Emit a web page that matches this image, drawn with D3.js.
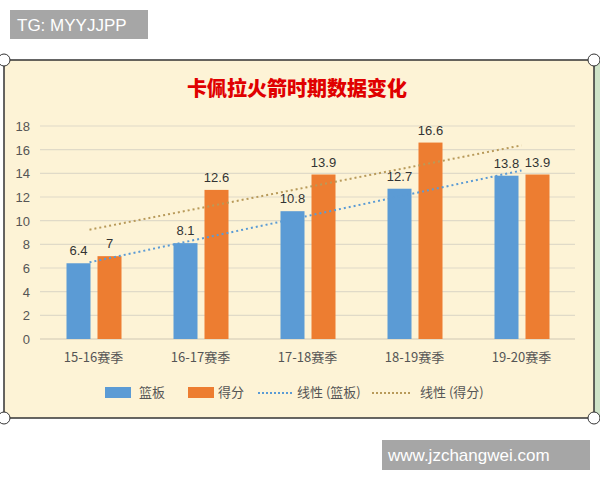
<!DOCTYPE html>
<html><head><meta charset="utf-8">
<script src="https://cdn.jsdelivr.net/npm/d3@7"></script>
<style>body{margin:0;background:#fff}svg{display:block}</style>
</head><body>
<svg id="c" width="600" height="480"></svg>
<script>
// data
var seasons = ['15-16赛季', '16-17赛季', '17-18赛季', '18-19赛季', '19-20赛季'];
var rebounds = [6.4, 8.1, 10.8, 12.7, 13.8];
var points = [7, 12.6, 13.9, 16.6, 13.9];
var yTicks = [0, 2, 4, 6, 8, 10, 12, 14, 16, 18];

var blue = '#5b9bd5', orange = '#ed7d31';
var svg = d3.select('#c');

// frame
svg.append('rect').attr('x', 592).attr('y', 60).attr('width', 8).attr('height', 360).attr('fill', '#cfe3c8');
svg.append('rect').attr('x', 4).attr('y', 60).attr('width', 590).attr('height', 358)
    .attr('fill', '#fdf3d6').attr('stroke', '#333').attr('stroke-width', 1.5);
[[4, 60], [594, 60], [4, 418], [594, 418]].forEach(function (p) {
    svg.append('circle').attr('cx', p[0]).attr('cy', p[1]).attr('r', 6).attr('fill', '#fff').attr('stroke', '#333');
});

svg.append('text').attr('x', 297).attr('y', 96).attr('text-anchor', 'middle')
    .attr('font-family', 'Noto Sans CJK SC').attr('font-weight', 900).attr('font-size', 20)
    .attr('fill', '#e00000').text('卡佩拉火箭时期数据变化');

var x = d3.scaleBand().domain(seasons).range([40, 575]).padding(0);
var y = d3.scaleLinear().domain([0, 18]).range([339, 126]);
function cx(i) { return x(seasons[i]) + x.bandwidth() / 2; }

var g = svg.append('g');
yTicks.forEach(function (t) {
    g.append('line').attr('x1', 40).attr('x2', 575).attr('y1', y(t)).attr('y2', y(t))
        .attr('stroke', t === 0 ? '#cfc8b4' : '#e0dac8').attr('stroke-width', 1.2);
    g.append('text').attr('x', 30).attr('y', y(t) + 5).attr('text-anchor', 'end')
        .attr('font-family', 'Liberation Sans').attr('font-size', 13).attr('fill', '#555').text(t);
});

var bw = 24;
function bars(vals, color, off) {
    vals.forEach(function (v, i) {
        var bx = cx(i) + off;
        g.append('rect').attr('x', bx).attr('y', y(v)).attr('width', bw).attr('height', y(0) - y(v)).attr('fill', color);
        g.append('text').attr('x', bx + bw / 2).attr('y', y(v) - 8).attr('text-anchor', 'middle')
            .attr('font-family', 'Liberation Sans').attr('font-size', 13).attr('fill', '#333').text(v);
    });
}
bars(rebounds, blue, -27);
bars(points, orange, 4);

// linear trend lines
function trend(vals, color) {
    var n = vals.length, mx = (n - 1) / 2, my = d3.mean(vals);
    var num = d3.sum(vals, function (v, i) { return (i - mx) * (v - my); });
    var den = d3.sum(vals, function (v, i) { return (i - mx) * (i - mx); });
    var b = num / den, a = my - b * mx;
    g.append('line').attr('x1', cx(0) - 4).attr('x2', cx(n - 1)).attr('y1', y(a)).attr('y2', y(a + b * (n - 1)))
        .attr('stroke', color).attr('stroke-width', 2).attr('stroke-dasharray', '2,3');
}
trend(rebounds, blue);
trend(points, '#b89a5a');

seasons.forEach(function (s, i) {
    g.append('text').attr('x', cx(i)).attr('y', 362).attr('text-anchor', 'middle')
        .attr('font-family', 'Noto Sans CJK SC').attr('font-size', 13).attr('fill', '#555').text(s);
});

// legend
var lg = svg.append('g').attr('font-family', 'Noto Sans CJK SC').attr('font-size', 13).attr('fill', '#555');
lg.append('rect').attr('x', 105).attr('y', 387).attr('width', 26).attr('height', 11).attr('fill', blue);
lg.append('text').attr('x', 139).attr('y', 397).text('篮板');
lg.append('rect').attr('x', 188).attr('y', 387).attr('width', 26).attr('height', 11).attr('fill', orange);
lg.append('text').attr('x', 218).attr('y', 397).text('得分');
lg.append('line').attr('x1', 258).attr('x2', 292).attr('y1', 393).attr('y2', 393).attr('stroke', blue).attr('stroke-width', 2).attr('stroke-dasharray', '2,2');
lg.append('text').attr('x', 297).attr('y', 397).text('线性 (篮板)');
lg.append('line').attr('x1', 372).attr('x2', 412).attr('y1', 393).attr('y2', 393).attr('stroke', '#b89a5a').attr('stroke-width', 2).attr('stroke-dasharray', '2,2');
lg.append('text').attr('x', 420).attr('y', 397).text('线性 (得分)');

// watermarks
svg.append('rect').attr('x', 10).attr('y', 10).attr('width', 138).attr('height', 29).attr('fill', '#a6a6a6');
svg.append('text').attr('x', 17).attr('y', 31).attr('font-family', 'Liberation Sans').attr('font-size', 17).attr('fill', '#fff').text('TG: MYYJJPP');
svg.append('rect').attr('x', 382).attr('y', 440).attr('width', 208).attr('height', 30).attr('fill', '#a6a6a6');
svg.append('text').attr('x', 388).attr('y', 461).attr('font-family', 'Liberation Sans').attr('font-size', 17).attr('fill', '#fff').text('www.jzchangwei.com');
</script>
</body></html>
